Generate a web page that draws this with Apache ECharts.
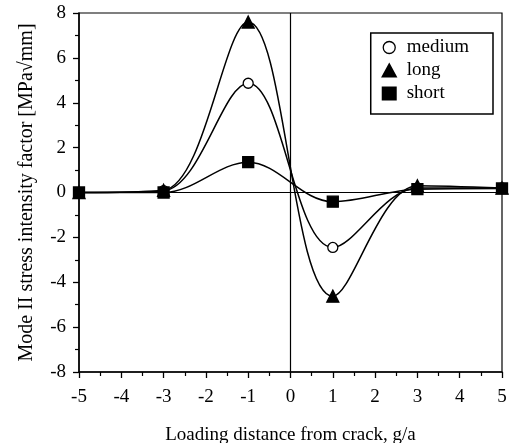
<!DOCTYPE html>
<html lang="en">

<head>
    <meta charset="UTF-8">
    <title>Mode II stress intensity factor</title>
    <script src="https://cdn.jsdelivr.net/npm/echarts@6.0.0/dist/echarts.min.js"></script>
    <style>
        body { margin: 0; background: #fff; }
    </style>
</head>

<body>
    <div id="main" style="width: 509px;height:443px;"></div>
    <script type="text/javascript">
        // loading positions g/a and the three crack lengths
        const positions = [-5, -3, -1, 1, 3, 5]
        const medium = [0, 0.08, 4.87, -2.45, 0.2, 0.2]
        const long = [0, 0.1, 7.6, -4.62, 0.3, 0.2]
        const short = [0, 0, 1.35, -0.41, 0.15, 0.18]

        const font = 'Liberation Serif'

        // pair up x and y for value axes
        function pairs(vals) {
            return positions.map((x, i) => [x, vals[i]])
        }

        function lineSeries(name, vals, symbol, size, fill) {
            return {
                name: name,
                type: 'line',
                data: pairs(vals),
                smooth: 0.35,
                symbol: symbol,
                symbolSize: size,
                showAllSymbol: true,
                color: '#000',
                lineStyle: { color: '#000', width: 1.5 },
                itemStyle: { color: fill, borderColor: '#000', borderWidth: 1.3 },
                emphasis: { disabled: true },
                z: 3
            }
        }

        let series = [
            lineSeries('medium', medium, 'circle', 10, '#fff'),
            lineSeries('long', long, 'triangle', 12, '#000'),
            lineSeries('short', short, 'rect', 11, '#000')
        ]

        // the zero cross lines
        series[0].markLine = {
            silent: true,
            symbol: 'none',
            label: { show: false },
            lineStyle: { color: '#000', width: 1.2, type: 'solid' },
            emphasis: { disabled: true },
            data: [{ yAxis: 0 }, { xAxis: 0 }]
        }

        let options = {
            animation: false,
            backgroundColor: '#fff',
            textStyle: { fontFamily: font },
            grid: {
                left: 79, right: 7, top: 13, bottom: 71,
                outerBoundsMode: 'none',
                show: true, borderColor: '#000', borderWidth: 1.2
            },
            legend: {
                orient: 'vertical',
                right: 16,
                top: 33,
                padding: [5, 24, 11, 11],
                borderColor: '#000',
                borderWidth: 1.5,
                itemGap: 4,
                itemWidth: 13,
                itemHeight: 12,
                textStyle: { fontFamily: font, fontSize: 19, color: '#000', padding: [0, 0, 0, 6] },
                data: [
                    { name: 'medium', icon: 'circle', itemStyle: { color: '#fff', borderColor: '#000', borderWidth: 1.3 } },
                    { name: 'long', icon: 'triangle' },
                    { name: 'short', icon: 'rect' }
                ]
            },
            xAxis: {
                type: 'value',
                min: -5,
                max: 5,
                interval: 1,
                name: 'Loading distance from crack, g/a',
                nameLocation: 'middle',
                nameGap: 54,
                nameTextStyle: { fontFamily: font, fontSize: 19, color: '#000' },
                axisLine: { onZero: false, lineStyle: { color: '#000', width: 1.5 } },
                axisTick: { length: 6, lineStyle: { color: '#000', width: 1.3 } },
                minorTick: { show: true, splitNumber: 2, length: 4, lineStyle: { color: '#000', width: 1.2 } },
                axisLabel: { margin: 16, fontFamily: font, fontSize: 19, color: '#000' },
                splitLine: { show: false }
            },
            yAxis: {
                type: 'value',
                min: -8,
                max: 8,
                interval: 2,
                name: 'Mode II stress intensity factor [MPa√mm]',
                nameLocation: 'middle',
                nameGap: 42,
                nameTextStyle: { fontFamily: font, fontSize: 20, color: '#000' },
                axisLine: { onZero: false, lineStyle: { color: '#000', width: 1.5 } },
                axisTick: { length: 6, lineStyle: { color: '#000', width: 1.3 } },
                minorTick: { show: true, splitNumber: 2, length: 4, lineStyle: { color: '#000', width: 1.2 } },
                axisLabel: { margin: 13, fontFamily: font, fontSize: 19, color: '#000' },
                splitLine: { show: false }
            },
            series: series
        };

        let myChart = echarts.init(document.getElementById('main'));
        myChart.setOption(options);
    </script>
</body>

</html>
